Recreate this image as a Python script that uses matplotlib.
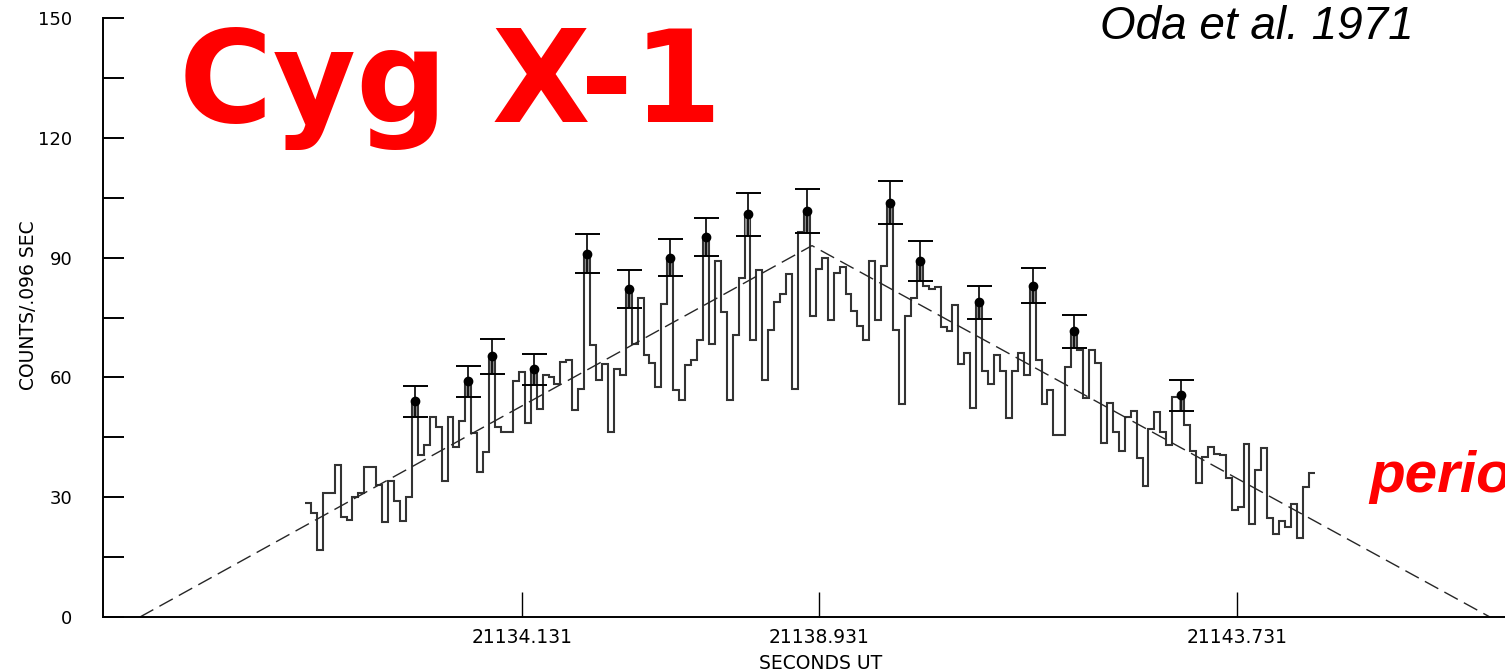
import numpy as np
import matplotlib.pyplot as plt
from matplotlib.ticker import MultipleLocator

# counts per 0.096 s bin
bin_start = 21130.624
bin_width = 0.096
counts = [
    28.5, 26, 16.7, 31, 31, 38, 25, 24.2, 30, 31,
    37.6, 37.6, 33, 23.8, 34, 29, 24, 30, 54, 40.5,
    43, 50, 47.6, 34, 50, 42.6, 49, 59, 46, 36.3,
    41.3, 65.3, 47.6, 46.3, 46.3, 59, 61.3, 48.5, 62, 52,
    60.5, 60, 58.4, 63.8, 64.4, 51.75, 57.2, 91, 68.2, 59.25,
    63.4, 46.3, 62.2, 60.5, 82.2, 68.4, 80, 65.5, 63.6, 57.6,
    78.4, 90, 56.75, 54.4, 63, 64.25, 69.25, 95.1, 68.4, 89.25,
    76.3, 54.4, 70.5, 85, 100.9, 69.25, 87, 59.4, 71.75, 79,
    81, 86, 57.2, 96.4, 101.75, 75.5, 87.2, 89.9, 74.4, 86.2,
    87.7, 81, 76.75, 73, 69.25, 89.25, 74.4, 87.8, 103.8, 71.9,
    53.4, 75.5, 80, 89.25, 83, 82.2, 82.6, 72.6, 71.6, 78.25,
    63.4, 66.2, 52.4, 78.8, 61.5, 58.4, 65.5, 61.5, 49.8, 61.5,
    66.2, 60.5, 83, 64.4, 53.4, 56.75, 45.5, 45.5, 62.6, 71.5,
    66.75, 54.75, 66.75, 63.5, 43.6, 53.5, 46.3, 41.6, 50.1, 51.6,
    39.7, 32.75, 47, 51.3, 46.3, 43, 55, 55.5, 48, 41.6,
    33.6, 40.1, 42.6, 40.8, 40.6, 34.7, 26.75, 27.6, 43.4, 23.4,
    36.75, 42.4, 24.9, 20.75, 24.1, 22.6, 28.4, 19.7, 32.6, 36,
]

# bins that carry error bars
err_bins = [18, 27, 31, 38, 47, 54, 61, 67, 74, 84, 98, 103, 113, 122, 129, 147]
err_size = [3.8, 3.9, 4.4, 3.8, 4.9, 4.7, 4.7, 4.8, 5.4, 5.5, 5.4, 5.0, 4.2, 4.4, 4.2, 3.9]

# triangular fit
fit_t = [21127.957, 21138.818, 21149.775]
fit_counts = [0, 93, 0]

tick_times = [21134.131, 21138.931, 21145.686]
tick_labels = ['21134.131', '21138.931', '21143.731']

counts = np.array(counts)
edges = bin_start + bin_width * np.arange(len(counts) + 1)
centers = edges[:-1] + bin_width / 2

fig = plt.figure(figsize=(15.05, 6.72), dpi=100)
ax = fig.add_axes([0.0684, 0.0818, 0.9316, 0.8914])

ax.stairs(counts, edges, baseline=None, color='0.2', linewidth=1.5)
ax.plot(fit_t, fit_counts, color='0.15', linewidth=1.0, dashes=(11, 5))

eb_x = centers[err_bins]
eb_y = counts[err_bins]
ax.bar(eb_x, err_size, bottom=eb_y - np.array(err_size), width=bin_width * 0.7,
       color='0.55', zorder=2)
ax.errorbar(eb_x, eb_y, yerr=err_size, fmt='o', ms=6, color='black',
            ecolor='black', elinewidth=1.2, capsize=9, capthick=1.4, zorder=3)

ax.set_xlim(21127.359, 21150.018)
ax.set_ylim(0, 150)
ax.spines['top'].set_visible(False)
ax.spines['right'].set_visible(False)
ax.spines['left'].set_linewidth(1.4)
ax.spines['bottom'].set_linewidth(1.4)

ax.yaxis.set_major_locator(MultipleLocator(30))
ax.yaxis.set_minor_locator(MultipleLocator(15))
ax.tick_params(axis='y', which='both', direction='in', length=15, width=1.4,
               labelsize=13, pad=22)
ax.set_xticks(tick_times)
ax.set_xticklabels(tick_labels)
ax.tick_params(axis='x', direction='in', length=18, width=1.0, labelsize=13.5, pad=8)

ax.set_ylabel('COUNTS/.096 SEC', fontsize=13.5)
ax.set_xlabel('SECONDS UT', fontsize=13.5)
ax.xaxis.set_label_coords(0.512, -0.062)
ax.yaxis.set_label_coords(-0.046, 0.52)

fig.text(0.119, 0.818, 'Cyg X-1', color='red', fontsize=92, fontweight='bold',
         family='DejaVu Sans')
fig.text(0.835, 0.942, 'Oda et al. 1971', fontsize=33, style='italic',
         family='Liberation Sans', ha='center', va='baseline')
fig.text(0.91, 0.29, 'periodic', color='red', fontsize=42, fontweight='bold',
         style='italic', family='Liberation Sans', va='center')

fig.savefig('out.png', dpi=100)
